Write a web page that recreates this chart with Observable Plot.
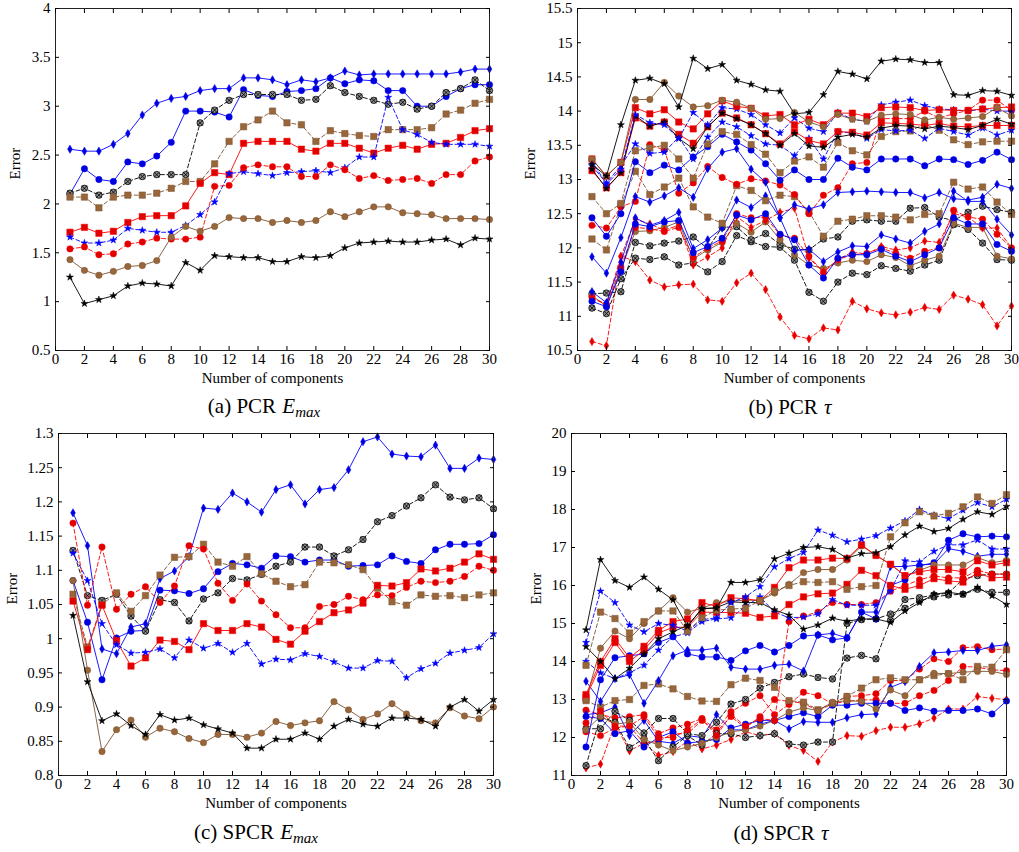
<!DOCTYPE html>
<html><head><meta charset="utf-8">
<script src="https://cdn.jsdelivr.net/npm/d3@7"></script>
<script src="https://cdn.jsdelivr.net/npm/@observablehq/plot@0.6"></script>
<style>
body{margin:0;background:#fff;}
#root{position:relative;width:1019px;height:852px;font-family:"Liberation Serif",serif;background:#fff;overflow:hidden;}
.panel{position:absolute;}
.cap{position:absolute;font-size:21px;transform:translate(-50%,-50%);white-space:nowrap;color:#000;}
.cap i{font-style:italic;margin-left:1px;}
.cap sub{font-size:15px;font-style:italic;vertical-align:-4px;}
</style></head><body><div id="root"></div>
<script>
const components = [1,2,3,4,5,6,7,8,9,10,11,12,13,14,15,16,17,18,19,20,21,22,23,24,25,26,27,28,29,30];
const xTicks = [0,2,4,6,8,10,12,14,16,18,20,22,24,26,28,30];
const yTicksA = [0.5,1,1.5,2,2.5,3,3.5,4];
const yTicksB = [10.5,11,11.5,12,12.5,13,13.5,14,14.5,15,15.5];
const yTicksC = [0.8,0.85,0.9,0.95,1,1.05,1.1,1.15,1.2,1.25,1.3];
const yTicksD = [11,12,13,14,15,16,17,18,19,20];

// ---- Panel (a) PCR Emax ----
const a_blueDiamond = [2.56,2.54,2.54,2.61,2.72,2.91,3.03,3.08,3.1,3.16,3.18,3.18,3.29,3.29,3.27,3.22,3.27,3.25,3.29,3.36,3.32,3.33,3.33,3.33,3.33,3.33,3.33,3.35,3.38,3.38];
const a_blueCircle = [2.1,2.36,2.25,2.23,2.43,2.41,2.49,2.63,2.95,2.95,2.94,2.89,3.17,3.11,3.1,3.15,3.16,3.18,3.29,3.23,3.27,3.26,3.16,3.16,3.0,3.0,3.1,3.18,3.22,3.22];
const a_blackOtimes = [2.11,2.16,2.09,2.12,2.23,2.28,2.3,2.3,2.3,2.83,2.96,3.06,3.12,3.12,3.12,3.12,3.06,3.07,3.21,3.14,3.1,3.06,3.02,3.04,2.97,3.0,3.14,3.18,3.27,3.16];
const a_brownSquare = [2.07,2.07,1.96,2.07,2.09,2.09,2.11,2.16,2.23,2.23,2.41,2.64,2.79,2.86,2.95,2.83,2.81,2.64,2.75,2.72,2.7,2.69,2.76,2.76,2.76,2.78,2.92,2.96,3.03,3.07];
const a_redSquare = [1.71,1.76,1.7,1.72,1.81,1.87,1.88,1.88,1.98,2.21,2.32,2.3,2.62,2.64,2.64,2.64,2.56,2.54,2.62,2.62,2.57,2.52,2.57,2.6,2.56,2.61,2.62,2.68,2.75,2.77];
const a_blueStar = [1.66,1.6,1.6,1.63,1.75,1.73,1.71,1.71,1.78,1.89,2.02,2.31,2.33,2.31,2.29,2.32,2.33,2.34,2.32,2.37,2.48,2.48,3.09,2.76,2.71,2.63,2.61,2.61,2.61,2.59];
const a_redCircle = [1.54,1.56,1.48,1.49,1.59,1.61,1.65,1.64,1.64,1.66,2.18,2.19,2.37,2.4,2.38,2.38,2.28,2.28,2.4,2.35,2.26,2.29,2.24,2.25,2.26,2.21,2.3,2.3,2.44,2.48];
const a_brownCircle = [1.43,1.32,1.27,1.31,1.36,1.37,1.42,1.66,1.77,1.72,1.77,1.86,1.85,1.85,1.81,1.83,1.81,1.83,1.92,1.87,1.92,1.97,1.97,1.91,1.9,1.89,1.85,1.85,1.85,1.84];
const a_blackStar = [1.25,0.98,1.02,1.06,1.16,1.19,1.18,1.16,1.4,1.32,1.47,1.46,1.45,1.45,1.41,1.41,1.46,1.45,1.47,1.55,1.6,1.61,1.62,1.61,1.61,1.63,1.64,1.58,1.65,1.64];

// ---- Panel (b) PCR tau ----
const b_blackStar1 = [13.22,13.05,13.8,14.45,14.48,14.4,14.06,14.77,14.62,14.68,14.45,14.39,14.31,14.29,13.96,13.98,14.24,14.58,14.54,14.47,14.73,14.76,14.75,14.71,14.71,14.24,14.23,14.3,14.29,14.23];
const b_brownCircle1 = [13.3,13.05,13.25,14.17,14.17,14.42,14.22,14.06,14.08,14.16,14.13,14.04,13.88,13.89,13.98,13.84,13.77,13.95,13.88,13.85,13.94,13.96,13.95,13.87,13.91,13.88,13.9,13.92,14.05,13.93];
const b_redSquare1 = [13.3,13.05,13.25,14.05,13.96,14.02,13.84,13.74,13.96,14.15,14.07,14.04,13.93,13.95,13.8,13.88,13.8,13.97,13.97,13.92,14.05,14.06,14.05,14.01,14.02,14.01,14.01,14.03,14.05,14.06];
const b_blueStar1 = [13.27,12.93,13.15,13.95,13.83,13.8,13.6,13.98,13.8,14.05,14.03,13.95,13.8,13.68,13.9,13.75,13.7,13.98,13.88,13.85,14.09,14.13,14.16,14.08,14.03,14.02,14.0,14.03,14.0,14.0];
const b_blackStar2 = [13.15,12.87,13.1,13.93,13.78,13.84,13.6,13.45,13.77,13.97,13.89,13.8,13.67,13.5,13.67,13.49,13.47,13.62,13.66,13.62,13.75,13.79,13.78,13.74,13.78,13.76,13.73,13.79,13.88,13.81];
const b_redSquare2 = [13.13,12.88,13.1,13.9,13.78,13.84,13.66,13.53,13.77,13.97,13.9,13.8,13.67,13.52,13.7,13.57,13.52,13.7,13.69,13.65,13.83,13.82,13.81,13.79,13.82,13.78,13.77,13.79,13.79,13.79];
const b_blueStar2 = [13.2,12.95,13.2,13.52,13.38,13.4,13.62,13.3,13.62,13.84,13.77,13.64,13.52,13.5,13.35,13.6,13.3,13.7,13.68,13.6,13.73,13.71,13.72,13.6,13.75,13.7,13.65,13.75,13.65,13.72];
const b_brownSquare1 = [12.75,12.5,12.65,13.42,13.46,13.5,13.3,13.02,13.52,13.7,13.66,13.51,13.37,13.1,13.27,13.33,13.18,13.54,13.42,13.36,13.63,13.7,13.71,13.81,13.72,13.58,13.51,13.55,13.56,13.56];
const b_brownSquare2 = [12.13,11.97,12.63,13.12,12.78,12.89,13.02,12.6,12.45,12.36,12.91,12.84,12.69,12.77,12.75,12.53,12.17,12.39,12.42,12.47,12.47,12.45,12.41,12.49,12.5,12.96,12.86,12.89,12.67,12.49];
const b_blueCircle1 = [12.44,12.17,12.5,13.26,13.1,13.21,13.14,13.33,13.48,13.66,13.55,13.43,13.23,12.99,13.14,13.0,13.0,13.31,13.18,13.14,13.3,13.3,13.3,13.2,13.3,13.29,13.22,13.28,13.4,13.29];
const b_blueDiamond1 = [11.87,11.63,12.15,12.75,12.67,12.76,12.88,12.74,13.16,13.4,13.45,13.15,12.96,12.44,12.63,12.57,12.63,12.81,12.82,12.83,12.82,12.81,12.81,12.73,12.81,12.72,12.7,12.74,12.93,12.87];
const b_redCircle1 = [12.33,12.29,12.6,12.68,13.51,13.43,12.8,12.95,13.19,13.03,12.93,13.01,12.98,12.92,12.78,12.5,12.77,12.88,13.23,13.25,13.89,13.89,13.89,14.0,13.9,13.96,14.01,14.16,14.16,14.01];
const b_blackOtimes1 = [11.33,11.34,11.36,12.08,12.03,12.07,12.1,12.16,11.99,12.3,12.31,12.12,12.21,12.05,11.98,11.97,12.13,12.16,12.39,12.41,12.39,12.39,12.58,12.59,12.45,12.4,12.52,12.61,12.56,12.52];
const b_blackOtimes2 = [11.12,11.04,11.55,11.85,11.83,11.87,11.75,11.78,11.65,11.8,12.18,12.09,12.02,12.01,11.82,11.35,11.22,11.5,11.63,11.61,11.74,11.7,11.66,11.75,11.82,12.34,12.27,12.07,11.83,11.82];
const b_redDiamond1 = [10.63,10.57,11.88,11.8,11.53,11.43,11.46,11.47,11.24,11.22,11.49,11.63,11.39,10.99,10.72,10.67,10.83,10.8,11.22,11.11,11.05,11.02,11.06,11.13,11.1,11.31,11.25,11.17,10.86,11.15];
const b_blueDiamond2 = [11.36,11.2,11.79,12.44,12.33,12.4,12.52,11.99,12.12,12.29,12.7,12.59,12.76,12.44,11.96,11.98,11.8,11.94,12.03,12.02,12.19,12.13,12.07,12.24,12.35,12.83,12.68,12.68,12.42,12.19];
const b_blueCircle2 = [11.22,11.14,11.65,12.35,12.31,12.38,12.4,11.93,12.02,12.14,12.48,12.41,12.5,12.2,12.12,11.75,11.56,11.85,11.9,11.9,11.98,11.88,11.8,11.9,12.0,12.44,12.35,12.35,12.05,11.95];
const b_redCircle2 = [11.28,11.17,11.72,12.3,12.28,12.24,12.3,11.86,12.0,12.1,12.5,12.44,12.45,12.19,12.14,11.88,11.64,11.83,11.9,11.92,12.0,11.92,11.85,11.95,12.0,12.55,12.45,12.42,12.2,12.0];
const b_brownCircle2 = [11.3,11.15,11.68,12.24,12.25,12.3,12.38,11.84,11.97,12.08,12.36,12.23,12.38,12.12,11.9,11.75,11.7,11.78,11.82,11.8,11.9,11.86,11.74,11.82,11.88,12.36,12.3,12.3,11.88,11.84];
const b_redDiamond2 = [11.26,11.18,11.87,12.42,12.35,12.26,12.33,11.75,11.87,12.0,12.46,12.3,12.4,12.52,12.58,11.85,11.65,11.83,11.94,11.91,12.02,11.97,12.0,12.1,12.08,12.5,12.45,12.29,12.29,12.0];

// ---- Panel (c) SPCR Emax ----
const c_blueDiamond = [1.184,1.136,0.985,0.978,1.017,1.022,1.088,1.099,1.12,1.191,1.189,1.213,1.2,1.185,1.218,1.225,1.197,1.218,1.221,1.247,1.288,1.295,1.27,1.267,1.266,1.283,1.249,1.249,1.264,1.262];
const c_blueCircle = [1.085,1.024,0.94,1.001,1.011,1.012,1.071,1.07,1.066,1.073,1.098,1.11,1.108,1.103,1.121,1.12,1.112,1.115,1.115,1.106,1.107,1.108,1.121,1.113,1.11,1.13,1.138,1.138,1.139,1.152];
const c_redCircle = [1.169,1.049,1.134,1.043,1.065,1.076,1.053,1.077,1.136,1.131,1.081,1.056,1.08,1.055,1.035,1.016,1.016,1.047,1.05,1.062,1.057,1.064,1.063,1.075,1.084,1.082,1.084,1.091,1.106,1.1];
const c_blackOtimes = [1.129,1.063,1.056,1.065,1.033,1.011,1.057,1.053,1.026,1.058,1.067,1.088,1.086,1.094,1.106,1.112,1.134,1.134,1.121,1.13,1.145,1.171,1.18,1.194,1.206,1.225,1.207,1.203,1.206,1.19];
const c_brownSquare = [1.065,0.988,1.05,1.067,1.04,1.063,1.093,1.119,1.12,1.138,1.112,1.106,1.12,1.095,1.084,1.076,1.079,1.112,1.111,1.108,1.101,1.074,1.054,1.049,1.064,1.062,1.063,1.06,1.064,1.067];
const c_redSquare = [1.055,0.984,1.049,0.997,0.96,0.972,0.998,0.996,0.984,1.022,1.012,1.012,1.022,1.017,0.999,0.992,1.011,1.025,1.038,1.042,1.052,1.078,1.077,1.082,1.102,1.099,1.103,1.112,1.124,1.116];
const c_blueStar = [1.125,1.085,1.022,0.991,0.979,0.98,0.985,0.972,0.998,0.986,0.993,0.98,0.993,0.963,0.97,0.969,0.978,0.974,0.966,0.957,0.957,0.968,0.967,0.943,0.956,0.964,0.979,0.983,0.987,1.007];
const c_blackStar = [1.034,0.937,0.88,0.89,0.873,0.86,0.889,0.881,0.884,0.874,0.868,0.862,0.84,0.84,0.853,0.853,0.862,0.853,0.872,0.882,0.875,0.872,0.884,0.884,0.882,0.872,0.9,0.911,0.894,0.911];
const c_brownCircle = [1.085,0.954,0.835,0.867,0.881,0.856,0.869,0.864,0.854,0.848,0.86,0.86,0.856,0.862,0.879,0.873,0.877,0.88,0.908,0.896,0.882,0.89,0.905,0.89,0.88,0.877,0.899,0.887,0.883,0.9];

// ---- Panel (d) SPCR tau ----
const d_blackStar1 = [14.83,16.68,16.13,15.95,16.22,15.9,15.62,14.92,15.4,15.4,16.08,16.08,16.15,16.7,16.85,17.0,17.02,16.95,16.72,16.84,16.86,17.02,17.33,17.56,17.42,17.5,17.74,17.94,17.87,18.08];
const d_brownSquare1 = [13.9,15.3,15.13,14.75,15.05,15.33,15.33,14.8,15.15,15.35,15.38,15.4,15.6,15.85,16.0,16.1,16.08,16.1,15.9,15.97,16.0,17.28,17.65,17.94,17.83,17.9,18.07,18.33,18.16,18.39];
const d_blueStar1 = [14.5,15.85,15.55,14.96,14.78,15.0,14.95,14.8,15.1,15.15,15.55,15.7,15.97,16.49,16.71,16.87,17.46,17.32,17.15,17.22,17.31,17.51,17.7,18.0,17.85,17.76,17.98,18.18,18.07,18.27];
const d_blackStar2 = [14.39,14.0,13.55,13.82,14.2,14.6,14.78,14.95,15.38,15.42,15.57,15.55,15.55,15.36,15.22,14.85,14.96,15.14,15.06,15.12,15.12,15.03,15.33,15.55,15.77,15.82,15.77,15.95,15.73,15.5];
const d_redSquare1 = [13.13,14.0,14.6,14.1,14.4,14.82,15.05,15.12,15.55,15.45,15.68,15.65,15.6,15.95,16.47,16.67,16.67,16.72,16.71,17.07,16.79,16.56,16.26,16.36,16.42,16.42,16.36,16.65,16.54,16.6];
const d_brownCircle1 = [13.0,14.35,14.8,14.6,15.0,15.33,15.68,15.3,15.4,15.55,15.58,15.62,15.6,15.8,16.03,16.34,16.42,16.42,16.67,17.04,16.8,16.55,16.26,16.4,16.54,16.54,16.54,16.73,16.6,16.66];
const d_redSquare2 = [13.05,13.9,14.5,14.0,14.3,14.75,14.9,14.9,15.3,15.29,15.29,15.27,15.16,15.2,15.5,15.7,15.78,15.8,16.03,16.4,16.26,16.0,15.9,16.0,16.18,16.12,16.09,16.33,16.2,16.22];
const d_blueStar2 = [14.0,13.7,13.55,13.7,13.9,14.3,14.65,14.75,15.05,15.12,15.15,15.45,15.7,15.3,15.15,15.17,15.25,15.63,15.48,15.48,15.48,15.85,16.65,16.62,16.9,17.07,17.07,17.2,16.96,16.96];
const d_blueCircle1 = [11.75,13.52,14.1,14.15,14.2,14.5,14.65,14.2,14.12,14.12,14.03,14.28,14.42,14.25,14.42,14.67,14.7,14.57,14.62,15.3,15.12,16.0,16.15,16.52,16.6,17.19,17.36,17.28,17.3,17.28];
const d_blueDiamond1 = [13.48,12.95,13.55,13.65,12.9,13.5,14.15,14.3,14.3,14.35,13.85,13.8,13.8,13.9,13.93,13.75,14.7,14.74,14.62,15.3,15.3,16.5,16.5,16.54,16.56,16.97,16.9,16.77,16.82,16.82];
const d_brownCircle2 = [12.2,12.55,12.35,12.4,11.95,11.8,11.65,11.75,11.85,12.0,12.15,12.2,12.3,12.45,12.67,12.78,12.71,12.93,12.97,12.95,12.75,13.25,13.1,13.52,13.69,13.68,13.72,13.74,13.74,13.66];
const d_brownSquare2 = [12.97,12.8,12.97,13.0,13.37,13.41,13.28,13.08,12.96,12.95,13.39,13.56,13.5,13.32,12.97,12.93,12.73,12.9,13.08,13.3,13.52,13.57,13.52,13.52,13.63,13.68,13.52,13.87,13.85,14.31];
const d_blackOtimes1 = [12.23,12.23,12.69,12.45,12.12,12.5,12.5,12.1,12.05,12.4,12.88,13.0,13.3,13.45,13.6,13.67,13.58,13.54,14.09,14.16,14.07,15.08,15.63,15.68,15.75,15.8,16.17,16.26,16.3,16.3];
const d_blackOtimes2 = [11.26,12.55,12.4,11.73,11.97,11.39,11.75,12.05,11.8,12.1,12.1,12.0,12.05,12.1,11.83,11.8,11.88,11.88,15.0,15.1,15.12,15.25,15.4,15.6,15.7,15.75,15.77,15.9,15.82,15.82];
const d_blueCircle2 = [12.55,12.5,12.1,12.18,11.75,12.0,12.15,11.85,11.9,11.95,12.25,12.35,12.45,12.45,12.55,12.65,12.55,12.85,12.85,12.9,12.9,12.9,12.71,12.78,12.69,12.71,12.71,12.75,12.62,12.96];
const d_blueDiamond2 = [12.6,12.65,12.8,12.05,12.45,11.9,11.85,12.05,12.0,12.6,12.2,12.2,12.35,12.45,12.23,12.42,12.4,12.4,12.52,12.6,12.62,13.32,13.47,13.87,14.23,14.25,14.29,14.29,14.4,14.44];
const d_redCircle1 = [12.72,12.6,12.52,12.55,12.6,12.1,12.25,12.35,12.5,12.2,12.68,12.9,13.1,12.6,12.87,13.19,13.1,12.89,13.08,13.1,13.15,13.5,13.5,13.8,14.07,14.0,14.36,14.39,14.31,14.33];
const d_redCircle2 = [12.15,12.05,12.25,12.3,11.85,11.9,12.1,12.1,12.45,12.15,12.55,12.25,12.55,13.0,12.95,12.9,12.7,12.89,12.95,12.99,12.99,12.9,12.9,13.1,13.24,13.5,13.87,13.85,13.78,13.76];
const d_redDiamond1 = [11.2,11.3,12.35,11.65,11.85,11.53,11.63,11.9,11.7,11.8,11.95,12.15,12.05,12.1,11.79,11.66,11.37,11.88,12.05,12.03,12.18,12.27,12.27,12.36,12.51,12.75,12.75,13.08,13.03,13.0];
const d_redCircle3 = [12.38,12.7,12.3,12.3,12.55,12.0,12.0,12.2,12.48,12.05,12.6,12.3,12.5,12.45,15.05,15.2,15.3,15.55,15.5,15.5,15.55,15.85,16.0,16.15,16.25,16.2,16.2,16.4,16.3,16.3];

const BLUE="#0000ff", BLUEF="#0000dd", RED="#ff0000", REDF="#e00000", BROWN="#7a5230", BROWNF="#99663a";
const DASH="4,2.5";
const styles = {
  blueDiamond: {stroke:BLUE, symbol:"diamond", fill:BLUEF, r:2.5},
  blueCircle:  {stroke:BLUE, symbol:"circle", fill:BLUEF, r:3.2},
  blackOtimes: {stroke:"black", dash:DASH, symbol:"otimes", fill:"#8a8a8a", r:3.2},
  brownSquare: {stroke:BROWN, dash:DASH, symbol:"square", fill:BROWNF, r:3.6},
  redSquare:   {stroke:RED, symbol:"square", fill:REDF, r:3.6},
  blueStar:    {stroke:BLUE, dash:DASH, symbol:"star", fill:BLUE, r:2.2},
  redCircle:   {stroke:RED, dash:DASH, symbol:"circle", fill:REDF, r:3.2},
  brownCircle: {stroke:BROWN, symbol:"circle", fill:BROWNF, r:3.2},
  blackStar:   {stroke:"black", symbol:"star", fill:"black", r:2.2},
  redDiamond:  {stroke:RED, dash:DASH, symbol:"diamond", fill:REDF, r:2.5}
};

function seriesMarks(values, st) {
  const data = values.map((v, i) => ({x: components[i], y: v}));
  const lineOpts = {x: "x", y: "y", stroke: st.stroke, strokeWidth: 0.9};
  if (st.dash) lineOpts.strokeDasharray = st.dash;
  const marks = [Plot.line(data, lineOpts)];
  if (st.symbol === "otimes") {
    marks.push(Plot.dot(data, {x: "x", y: "y", r: st.r, fill: st.fill, stroke: "black", strokeWidth: 0.8}));
    marks.push(Plot.dot(data, {x: "x", y: "y", r: st.r * 0.8, symbol: "times", stroke: "black", strokeWidth: 0.8}));
  } else {
    marks.push(Plot.dot(data, {x: "x", y: "y", r: st.r, symbol: st.symbol, fill: st.fill, stroke: st.stroke, strokeWidth: 0.5}));
  }
  return marks;
}

function panel(cfg) {
  const fmt = d => String(d);
  return Plot.plot({
    width: cfg.width, height: 392,
    marginLeft: cfg.ml, marginRight: cfg.mr, marginTop: 8, marginBottom: 42,
    style: {fontFamily: "'Liberation Serif', serif", fontSize: "15px", background: "white", color: "black", overflow: "visible"},
    x: {domain: [0, 30]},
    y: {domain: cfg.yDomain},
    marks: [
      ...cfg.series.flatMap(s => seriesMarks(s.values, styles[s.style])),
      Plot.frame({stroke: "#222", strokeWidth: 1}),
      Plot.axisX(xTicks, {anchor: "bottom", tickSize: 0, tickPadding: 3, tickFormat: fmt, label: null, fontSize: 15}),
      Plot.axisX(xTicks, {anchor: "bottom", tickSize: -4, tickFormat: () => "", label: null}),
      Plot.axisX(xTicks, {anchor: "top", tickSize: -4, tickFormat: () => "", label: null}),
      Plot.axisY(cfg.yTicks, {anchor: "left", tickSize: 0, tickPadding: 5, tickFormat: fmt, label: null, fontSize: 15}),
      Plot.axisY(cfg.yTicks, {anchor: "left", tickSize: -4, tickFormat: () => "", label: null}),
      Plot.axisY(cfg.yTicks, {anchor: "right", tickSize: -4, tickFormat: () => "", label: null}),
      Plot.text(["Number of components"], {text: d => d, frameAnchor: "bottom", dy: 32, fontSize: 15}),
      Plot.text(["Error"], {text: d => d, frameAnchor: "left", dx: cfg.errDx, rotate: -90, fontSize: 15})
    ]
  });
}

const root = document.getElementById("root");
function place(svg, left, top) {
  const wrap = document.createElement("div");
  wrap.className = "panel";
  wrap.style.left = left + "px";
  wrap.style.top = top + "px";
  wrap.appendChild(svg);
  root.appendChild(wrap);
}
function caption(html, cx, cy) {
  const d = document.createElement("div");
  d.className = "cap";
  d.style.left = cx + "px";
  d.style.top = cy + "px";
  d.innerHTML = html;
  root.appendChild(d);
}

place(panel({
  width: 500, ml: 55, mr: 11, yDomain: [0.5, 4], yTicks: yTicksA, errDx: -40,
  series: [
    {style: "blueDiamond", values: a_blueDiamond},
    {style: "blueCircle", values: a_blueCircle},
    {style: "blackOtimes", values: a_blackOtimes},
    {style: "brownSquare", values: a_brownSquare},
    {style: "redSquare", values: a_redSquare},
    {style: "blueStar", values: a_blueStar},
    {style: "redCircle", values: a_redCircle},
    {style: "brownCircle", values: a_brownCircle},
    {style: "blackStar", values: a_blackStar}
  ]
}), 0, 0);

place(panel({
  width: 509, ml: 67, mr: 8, yDomain: [10.5, 15.5], yTicks: yTicksB, errDx: -47,
  series: [
    {style: "redDiamond", values: b_redDiamond1},
    {style: "blackOtimes", values: b_blackOtimes2},
    {style: "blackOtimes", values: b_blackOtimes1},
    {style: "brownCircle", values: b_brownCircle2},
    {style: "redCircle", values: b_redCircle2},
    {style: "redDiamond", values: b_redDiamond2},
    {style: "blueCircle", values: b_blueCircle2},
    {style: "blueDiamond", values: b_blueDiamond2},
    {style: "brownSquare", values: b_brownSquare2},
    {style: "redCircle", values: b_redCircle1},
    {style: "blueDiamond", values: b_blueDiamond1},
    {style: "blueCircle", values: b_blueCircle1},
    {style: "brownSquare", values: b_brownSquare1},
    {style: "blueStar", values: b_blueStar2},
    {style: "redSquare", values: b_redSquare2},
    {style: "blackStar", values: b_blackStar2},
    {style: "blueStar", values: b_blueStar1},
    {style: "redSquare", values: b_redSquare1},
    {style: "brownCircle", values: b_brownCircle1},
    {style: "blackStar", values: b_blackStar1}
  ]
}), 510, 0);

place(panel({
  width: 500, ml: 58, mr: 7, yDomain: [0.8, 1.3], yTicks: yTicksC, errDx: -46,
  series: [
    {style: "blueDiamond", values: c_blueDiamond},
    {style: "blueCircle", values: c_blueCircle},
    {style: "blackOtimes", values: c_blackOtimes},
    {style: "brownSquare", values: c_brownSquare},
    {style: "redSquare", values: c_redSquare},
    {style: "blueStar", values: c_blueStar},
    {style: "redCircle", values: c_redCircle},
    {style: "brownCircle", values: c_brownCircle},
    {style: "blackStar", values: c_blackStar}
  ]
}), 0, 425);

place(panel({
  width: 509, ml: 61, mr: 13, yDomain: [11, 20], yTicks: yTicksD, errDx: -35,
  series: [
    {style: "redDiamond", values: d_redDiamond1},
    {style: "redCircle", values: d_redCircle2},
    {style: "redCircle", values: d_redCircle1},
    {style: "blueDiamond", values: d_blueDiamond2},
    {style: "blueCircle", values: d_blueCircle2},
    {style: "blackOtimes", values: d_blackOtimes2},
    {style: "blackOtimes", values: d_blackOtimes1},
    {style: "brownSquare", values: d_brownSquare2},
    {style: "brownCircle", values: d_brownCircle2},
    {style: "redCircle", values: d_redCircle3},
    {style: "blueDiamond", values: d_blueDiamond1},
    {style: "blueCircle", values: d_blueCircle1},
    {style: "blueStar", values: d_blueStar2},
    {style: "redSquare", values: d_redSquare2},
    {style: "brownCircle", values: d_brownCircle1},
    {style: "redSquare", values: d_redSquare1},
    {style: "blackStar", values: d_blackStar2},
    {style: "blueStar", values: d_blueStar1},
    {style: "brownSquare", values: d_brownSquare1},
    {style: "blackStar", values: d_blackStar1}
  ]
}), 510, 425);

caption('(a) PCR <i>E</i><sub>max</sub>', 264, 407);
caption('(b) PCR <i>τ</i>', 790, 407);
caption('(c) SPCR <i>E</i><sub>max</sub>', 256, 833);
caption('(d) SPCR <i>τ</i>', 781, 833);
</script></body></html>
